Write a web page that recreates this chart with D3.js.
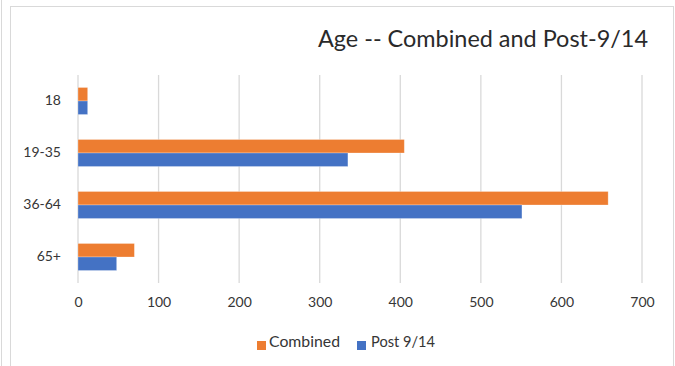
<!DOCTYPE html>
<html>
<head>
<meta charset="utf-8">
<script src="https://cdn.jsdelivr.net/npm/d3@7"></script>
<style>
  html, body { margin: 0; padding: 0; background: #fff; }
  svg { display: block; font-family: Lato, "Open Sans", sans-serif; }
</style>
</head>
<body>
<svg id="chart" width="675" height="366"></svg>
<script>
// Age groups, top to bottom
const categories = ["18", "19-35", "36-64", "65+"];
// Series values per age group
const combined = [12, 405, 658, 70];
const post914 = [12, 335, 551, 48];
const seriesNames = ["Combined", "Post 9/14"];
const xTicks = [0, 100, 200, 300, 400, 500, 600, 700];

const colors = { "Combined": "#ED7D31", "Post 9/14": "#4472C4" };
const textColor = "#363636";

const svg = d3.select("#chart");

// Outer sheet line and chart frame
svg.append("line")
  .attr("x1", 1.5).attr("x2", 1.5).attr("y1", 0).attr("y2", 366)
  .attr("stroke", "#d9d9d9").attr("stroke-width", 1);
svg.append("rect")
  .attr("x", 10.5).attr("y", 6.5).attr("width", 663).attr("height", 370)
  .attr("fill", "#fff").attr("stroke", "#d9d9d9").attr("stroke-width", 1);

// Title
svg.append("text")
  .attr("x", 318).attr("y", 47)
  .attr("font-size", 23.5)
  .attr("fill", "#2a2a2a")
  .attr("textLength", 330)
  .attr("lengthAdjust", "spacingAndGlyphs")
  .text("Age -- Combined and Post-9/14");

const x = d3.scaleLinear().domain([0, 700]).range([78, 642]);
const y = d3.scaleBand().domain(categories).range([75, 283])
  .paddingInner(0.48).paddingOuter(0.24);
const ySub = d3.scaleBand().domain(seriesNames).range([0, y.bandwidth()]);

// Vertical gridlines
svg.append("g")
  .selectAll("line")
  .data(xTicks)
  .join("line")
  .attr("x1", d => x(d)).attr("x2", d => x(d))
  .attr("y1", 75).attr("y2", 283)
  .attr("stroke", "#d9d9d9").attr("stroke-width", 1.3);

// X axis labels
const xAxis = d3.axisBottom(x).tickValues(xTicks).tickSize(0).tickPadding(0);
const gx = svg.append("g").attr("transform", "translate(0,297)").call(xAxis);
gx.select(".domain").remove();
gx.selectAll("text")
  .attr("font-family", "Lato, 'Open Sans', sans-serif")
  .attr("font-size", 14)
  .attr("fill", textColor)
  .attr("dy", "0.71em");

// Y axis labels
const yAxis = d3.axisLeft(y).tickSize(0).tickPadding(0);
const gy = svg.append("g").attr("transform", "translate(61,0)").call(yAxis);
gy.select(".domain").remove();
gy.selectAll("text")
  .attr("font-family", "Lato, 'Open Sans', sans-serif")
  .attr("font-size", 14)
  .attr("fill", textColor);

// Bars
const rows = categories.map((c, i) => ({
  cat: c,
  values: [
    { series: "Combined", value: combined[i] },
    { series: "Post 9/14", value: post914[i] }
  ]
}));

svg.append("g")
  .selectAll("g")
  .data(rows)
  .join("g")
  .attr("transform", d => `translate(0,${y(d.cat)})`)
  .selectAll("rect")
  .data(d => d.values)
  .join("rect")
  .attr("x", x(0))
  .attr("y", d => ySub(d.series))
  .attr("width", d => x(d.value) - x(0))
  .attr("height", ySub.bandwidth())
  .attr("fill", d => colors[d.series])
  .attr("stroke", "#fff")
  .attr("stroke-opacity", 0.35)
  .attr("stroke-width", 0.8);

// Legend
const legendItems = [
  { name: "Combined", sx: 257, tx: 269, w: 71 },
  { name: "Post 9/14", sx: 357, tx: 371, w: 64 }
];
const lg = svg.append("g");
lg.selectAll("rect")
  .data(legendItems)
  .join("rect")
  .attr("x", d => d.sx).attr("y", 341)
  .attr("width", 9).attr("height", 9)
  .attr("fill", d => colors[d.name]);
lg.selectAll("text")
  .data(legendItems)
  .join("text")
  .attr("x", d => d.tx).attr("y", 347)
  .attr("font-size", 15)
  .attr("fill", textColor)
  .attr("textLength", d => d.w)
  .attr("lengthAdjust", "spacingAndGlyphs")
  .text(d => d.name);
</script>
</body>
</html>
